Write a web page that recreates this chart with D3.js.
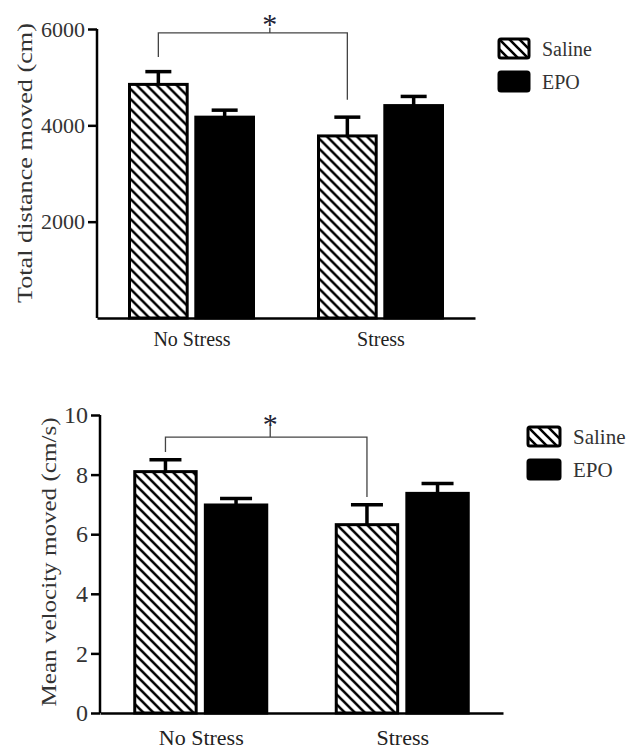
<!DOCTYPE html>
<html>
<head>
<meta charset="utf-8">
<script src="https://cdn.jsdelivr.net/npm/d3@7"></script>
<style>
body { margin: 0; background: #fff; }
svg { display: block; }
svg text { font-family: "Liberation Serif", "Times New Roman", Times, serif; }
</style>
</head>
<body>
<svg id="chart" width="641" height="751"></svg>
<script>
// groups and treatments
var groups = ["No Stress", "Stress"];
var treatments = ["Saline", "EPO"];

// total distance moved (cm), mean and error per group
var distanceSaline = [4850, 3780];
var distanceSalineErr = [265, 390];
var distanceEpo = [4170, 4410];
var distanceEpoErr = [145, 190];
var distanceTicks = [2000, 4000, 6000];

// mean velocity (cm/s)
var velocitySaline = [8.1, 6.32];
var velocitySalineErr = [0.4, 0.67];
var velocityEpo = [6.98, 7.37];
var velocityEpoErr = [0.22, 0.33];
var velocityTicks = [0, 2, 4, 6, 8, 10];

var svg = d3.select('#chart');

// diagonal hatch for saline
var pat = svg.append('defs').append('pattern')
    .attr('id', 'hatch')
    .attr('patternUnits', 'userSpaceOnUse')
    .attr('width', 10).attr('height', 10);
pat.append('rect').attr('width', 10).attr('height', 10).attr('fill', '#fff');
pat.append('path')
    .attr('d', 'M0,0L10,10M-3,7L3,13M7,-3L13,3')
    .attr('stroke', '#000').attr('stroke-width', 2.6);

var fills = {Saline: 'url(#hatch)', EPO: '#000'};

function drawPanel(o) {
    var rows = groups.map(function(g, i) {
        return {group: g, values: [
            {t: 'Saline', v: o.saline[i], e: o.salineErr[i]},
            {t: 'EPO', v: o.epo[i], e: o.epoErr[i]}
        ]};
    });

    var x = d3.scalePoint().domain(groups).range([o.left, o.right]).padding(0.5);
    var xi = d3.scaleBand().domain(treatments)
        .range([-o.half, o.half]).paddingInner(0.13);
    var y = d3.scaleLinear().domain([0, o.max]).range([o.bottom, o.top]);

    var g = svg.append('g');

    // bars
    var grp = g.selectAll('g.grp').data(rows).enter().append('g')
        .attr('transform', function(d) { return 'translate(' + x(d.group) + ',0)'; });

    grp.selectAll('rect').data(function(d) { return d.values; }).enter().append('rect')
        .attr('x', function(d) { return xi(d.t); })
        .attr('width', xi.bandwidth())
        .attr('y', function(d) { return y(d.v); })
        .attr('height', function(d) { return y(0) - y(d.v); })
        .attr('fill', function(d) { return fills[d.t]; })
        .attr('stroke', '#000').attr('stroke-width', 3);

    // error bars
    var eb = grp.selectAll('g.err').data(function(d) { return d.values; }).enter().append('g')
        .attr('stroke', '#000').attr('stroke-width', 3.5);
    eb.append('line')
        .attr('x1', function(d) { return xi(d.t) + xi.bandwidth() / 2; })
        .attr('x2', function(d) { return xi(d.t) + xi.bandwidth() / 2; })
        .attr('y1', function(d) { return y(d.v); })
        .attr('y2', function(d) { return y(d.v + d.e); });
    eb.append('line')
        .attr('x1', function(d) { return xi(d.t) + xi.bandwidth() / 2 - o.cap; })
        .attr('x2', function(d) { return xi(d.t) + xi.bandwidth() / 2 + o.cap; })
        .attr('y1', function(d) { return y(d.v + d.e); })
        .attr('y2', function(d) { return y(d.v + d.e); });

    // y axis
    var ya = g.append('g')
        .attr('transform', 'translate(' + o.left + ',0)')
        .call(d3.axisLeft(y).tickValues(o.ticks).tickSize(9).tickSizeOuter(0).tickPadding(3)
            .tickFormat(d3.format('d')));
    ya.attr('font-family', null).attr('font-size', o.tickFont);
    ya.selectAll('path, line').attr('stroke', '#000').attr('stroke-width', 2.5);
    ya.selectAll('text').attr('fill', '#333').style('font-size', o.tickFont + 'px');
    ya.select('.domain').attr('d', 'M0,' + y(0) + 'V' + y(o.max));

    // x axis
    var xa = g.append('g')
        .attr('transform', 'translate(0,' + y(0) + ')')
        .call(d3.axisBottom(x).tickSize(0).tickSizeOuter(0).tickPadding(o.xPad));
    xa.attr('font-family', null).attr('font-size', o.xFont);
    xa.select('.domain').attr('stroke', '#000').attr('stroke-width', 2.5);
    xa.selectAll('text').attr('fill', '#222').style('font-size', o.xFont + 'px');

    // y label
    g.append('text')
        .attr('transform', 'translate(' + o.labelX + ',' + o.labelY + ') rotate(-90)')
        .attr('text-anchor', 'middle')
        .attr('font-size', o.labelFont)
        .attr('textLength', o.labelLen)
        .attr('lengthAdjust', 'spacingAndGlyphs')
        .attr('fill', '#333')
        .text(o.label);

    // significance bracket
    var bx1 = x(groups[0]) + xi('Saline') + xi.bandwidth() / 2;
    var bx2 = x(groups[1]) + xi('Saline') + xi.bandwidth() / 2;
    var mid = (bx1 + bx2) / 2 + o.starShift;
    g.append('path')
        .attr('d', 'M' + bx1 + ',' + y(o.bracketLeft) + 'V' + y(o.bracket) + 'H' + bx2 +
            'V' + y(o.bracketRight) + 'M' + mid + ',' + y(o.bracket) + 'V' + (y(o.bracket) - o.tick))
        .attr('fill', 'none').attr('stroke', '#444').attr('stroke-width', 1.3);
    g.append('text')
        .attr('x', mid).attr('y', y(o.bracket) + o.starDy)
        .attr('text-anchor', 'middle').attr('font-size', 30).attr('fill', '#223')
        .text('*');

    // legend
    var lg = g.append('g').attr('transform', 'translate(' + o.legX + ',' + o.legY + ')');
    var li = lg.selectAll('g').data(treatments).enter().append('g')
        .attr('transform', function(d, i) { return 'translate(0,' + i * o.legStep + ')'; });
    li.append('rect')
        .attr('width', o.legW).attr('height', 19).attr('rx', 2)
        .attr('fill', function(d) { return fills[d]; })
        .attr('stroke', '#000').attr('stroke-width', 3);
    li.append('text')
        .attr('x', o.legW + 13).attr('y', 10).attr('dy', '0.35em')
        .attr('font-size', o.legFont).attr('fill', '#333')
        .text(function(d) { return d; });
}

drawPanel({
    saline: distanceSaline, salineErr: distanceSalineErr,
    epo: distanceEpo, epoErr: distanceEpoErr,
    ticks: distanceTicks, max: 6000,
    left: 97, right: 475, top: 29, bottom: 318,
    half: 62, cap: 13, tickFont: 22, xPad: 14, xFont: 20,
    label: 'Total distance moved (cm)', labelX: 32, labelY: 163, labelFont: 21, labelLen: 280,
    bracket: 5920, bracketLeft: 5420, bracketRight: 4530, tick: 5, starShift: 17, starDy: 1,
    legX: 499, legY: 39, legStep: 33, legW: 30, legFont: 20
});

drawPanel({
    saline: velocitySaline, salineErr: velocitySalineErr,
    epo: velocityEpo, epoErr: velocityEpoErr,
    ticks: velocityTicks, max: 10,
    left: 100, right: 503, top: 415, bottom: 713,
    half: 66, cap: 16, tickFont: 24, xPad: 16, xFont: 22,
    label: 'Mean velocity moved (cm/s)', labelX: 56, labelY: 562, labelFont: 22, labelLen: 289,
    bracket: 9.26, bracketLeft: 8.76, bracketRight: 7.25, tick: 11, starShift: 4, starDy: -3,
    legX: 528, legY: 427, legStep: 33, legW: 32, legFont: 21
});
</script>
</body>
</html>
